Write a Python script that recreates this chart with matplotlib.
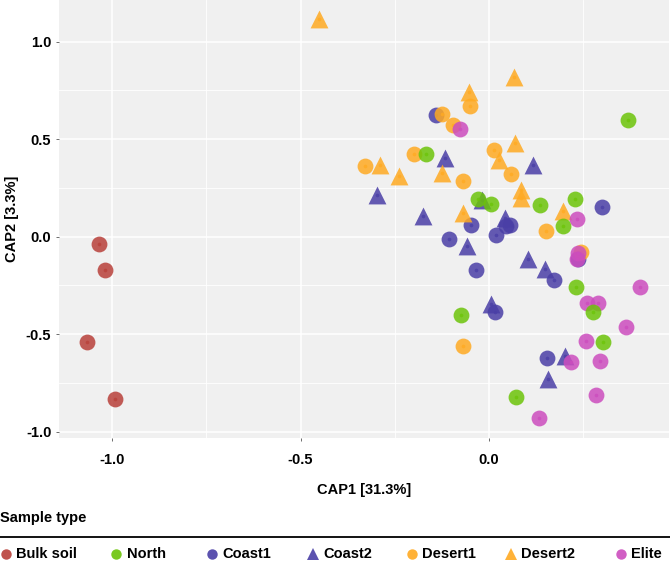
import matplotlib.pyplot as plt
from matplotlib.lines import Line2D

plt.rcParams['font.family'] = ['Liberation Sans', 'DejaVu Sans']
plt.rcParams['font.weight'] = 'bold'
plt.rcParams['axes.unicode_minus'] = False

# Data
groups = ['Bulk soil', 'North', 'Coast1', 'Coast2', 'Desert1', 'Desert2', 'Elite']
colors = ['#B8403A', '#6CC40A', '#4A3FA6', '#4A3FA6', '#FFAA22', '#FFAA22', '#CC4DBE']
shapes = ['o', 'o', 'o', '^', 'o', '^', 'o']

bulk_x = [-1.035, -1.018, -1.066, -0.992]
bulk_y = [-0.037, -0.172, -0.542, -0.831]

north_x = [0.368, -0.168, -0.030, 0.005, 0.135, 0.227, 0.195, 0.230, 0.275, 0.303, -0.074, 0.070]
north_y = [0.600, 0.424, 0.195, 0.170, 0.165, 0.194, 0.055, -0.260, -0.388, -0.542, -0.402, -0.820]

coast1_x = [-0.142, -0.048, -0.107, 0.018, 0.045, 0.056, -0.034, 0.173, 0.299, 0.235, 0.015, 0.153]
coast1_y = [0.622, 0.058, -0.014, 0.010, 0.056, 0.062, -0.172, -0.223, 0.153, -0.112, -0.388, -0.624]

coast2_x = [-0.117, 0.116, -0.298, -0.174, -0.020, 0.042, -0.058, 0.102, 0.147, 0.005, 0.201, 0.156]
coast2_y = [0.404, 0.370, 0.216, 0.106, 0.190, 0.097, -0.048, -0.116, -0.167, -0.346, -0.613, -0.729]

desert1_x = [-0.125, -0.097, -0.052, -0.198, -0.330, 0.012, 0.059, -0.070, 0.152, 0.243, -0.070]
desert1_y = [0.630, 0.571, 0.668, 0.426, 0.361, 0.446, 0.324, 0.285, 0.029, -0.077, -0.562]

desert2_x = [-0.451, 0.066, -0.053, 0.068, 0.025, -0.290, -0.239, -0.126, 0.084, 0.084, -0.068, 0.195]
desert2_y = [1.119, 0.821, 0.744, 0.480, 0.395, 0.370, 0.310, 0.327, 0.242, 0.200, 0.123, 0.131]

elite_x = [-0.078, 0.233, 0.235, 0.232, 0.400, 0.260, 0.290, 0.363, 0.256, 0.293, 0.216, 0.284, 0.133]
elite_y = [0.552, 0.092, -0.085, -0.115, -0.256, -0.342, -0.342, -0.462, -0.533, -0.635, -0.644, -0.809, -0.930]

xs = [bulk_x, north_x, coast1_x, coast2_x, desert1_x, desert2_x, elite_x]
ys = [bulk_y, north_y, coast1_y, coast2_y, desert1_y, desert2_y, elite_y]

draw_order = [0, 2, 3, 4, 5, 6, 1]

W, H = 670, 565
fig = plt.figure(figsize=(W / 100, H / 100), dpi=100)
ax = fig.add_axes([59 / W, 1 - 438 / H, 610 / W, 438 / H])
ax.set_facecolor('#F0F0F0')
for s in ax.spines.values():
    s.set_visible(False)

for i in draw_order:
    size = 165 if shapes[i] == '^' else 130
    ax.scatter(xs[i], ys[i], s=size, marker=shapes[i], color=colors[i],
               alpha=0.85, linewidths=0, zorder=3)
    # darker centre dot
    ax.scatter(xs[i], ys[i], s=7, marker='o', color=colors[i],
               alpha=0.8, linewidths=0, zorder=3)

ax.set_xlim(-1.1405, 0.477)
ax.set_ylim(-1.032, 1.214)
ax.set_xticks([-1.0, -0.5, 0.0])
ax.set_yticks([-1.0, -0.5, 0.0, 0.5, 1.0])
ax.set_xticks([-0.75, -0.25, 0.25], minor=True)
ax.set_yticks([-0.75, -0.25, 0.25, 0.75], minor=True)
ax.grid(True, which='major', color='white', linewidth=1.1, zorder=0)
ax.grid(True, which='minor', color='white', linewidth=0.6, zorder=0)
ax.set_axisbelow(True)
ax.tick_params(which='major', length=2.5, width=0.6, color='#555555',
               labelsize=10.5, pad=3)
ax.tick_params(which='minor', length=0)
ax.tick_params(axis='x', pad=8)
for lab in ax.get_xticklabels() + ax.get_yticklabels():
    lab.set_fontweight('bold')

fig.text((59 + 669) / 2 / W, 1 - 490 / H, 'CAP1 [31.3%]', ha='center', va='center',
         fontsize=10.5, fontweight='bold')
fig.text(12 / W, 1 - 219 / H, 'CAP2 [3.3%]', ha='center', va='center',
         rotation=90, fontsize=10.5, fontweight='bold')

# Legend at the bottom
fig.text(0, 1 - 518 / H, 'Sample type', ha='left', va='center',
         fontsize=10.5, fontweight='bold')
fig.add_artist(Line2D([0, 1], [1 - 537 / H, 1 - 537 / H], color='black',
                      linewidth=1.3, transform=fig.transFigure))
mark_px = [6, 116, 212, 313, 412, 511, 621]
text_px = [16, 127, 222, 323, 422, 521, 631]
for i, g in enumerate(groups):
    yy = 1 - 554 / H
    ms = 8.5 if shapes[i] == '^' else 7.5
    fig.add_artist(Line2D([mark_px[i] / W], [yy], marker=shapes[i], color=colors[i],
                          markersize=ms, markeredgewidth=0, linestyle='none',
                          alpha=0.9, transform=fig.transFigure))
    fig.text(text_px[i] / W, yy, g, ha='left', va='center',
             fontsize=10.5, fontweight='bold')

fig.savefig('out.png', dpi=100)
